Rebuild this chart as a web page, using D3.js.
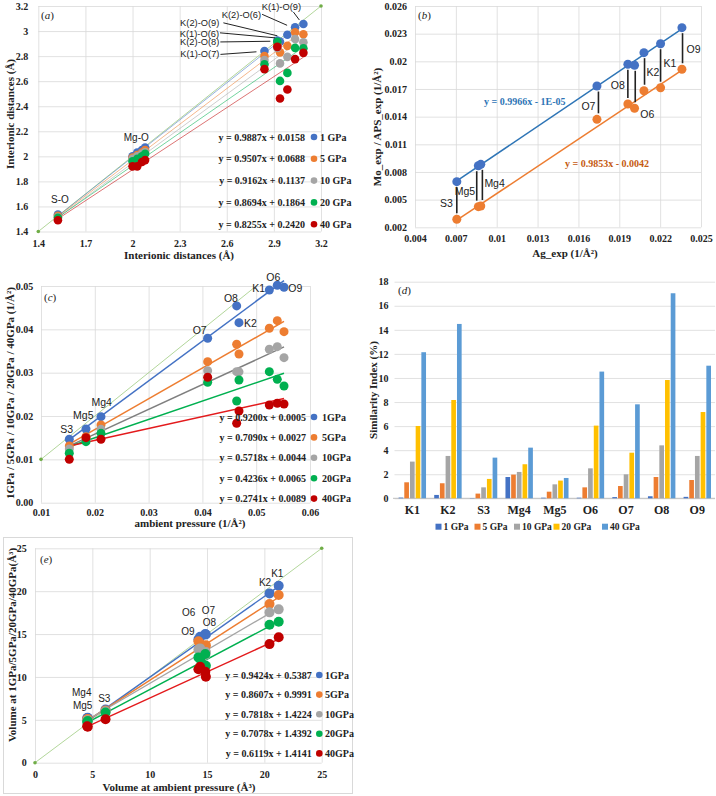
<!DOCTYPE html>
<html><head><meta charset="utf-8">
<script src="https://cdn.jsdelivr.net/npm/d3@7"></script>
<style>body{margin:0;background:#fff} svg{display:block}</style>
</head><body>
<script>
// ---------- shared ----------
const pressureNames = ["1 GPa","5 GPa","10 GPa","20 GPa","40 GPa"];
const pressureShort = ["1GPa","5GPa","10GPa","20GPa","40GPa"];
const seriesColors = ["#4472C4","#ED7D31","#A5A5A5","#00B050","#C00000"];

// ---------- panel (a): interionic distances ----------
const aBonds    = ["S-O","Mg-O","Mg-O","Mg-O","Mg-O","K(1)-O(7)","K(2)-O(8)","K(1)-O(6)","K(2)-O(9)","K(2)-O(6)","K(1)-O(9)"];
const aAmbient  = [1.525, 2.00, 2.03, 2.06, 2.08, 2.84, 2.922, 2.939, 2.986, 3.035, 3.088];
const a1GPa     = [1.535, 2.00, 2.03, 2.05, 2.07, 2.84, 2.925, 2.914, 2.97, 3.03, 3.056];
const a5GPa     = [1.525, 1.99, 2.01, 2.03, 2.05, 2.80, 2.89, 2.83, 2.882, 2.99, 2.974];
const a10GPa    = [1.515, 1.98, 2.00, 2.02, 2.035, 2.768, 2.865, 2.742, 2.794, 2.936, 2.91];
const a20GPa    = [1.51, 1.96, 1.98, 2.00, 2.02, 2.734, 2.914, 2.602, 2.666, 2.866, 2.862];
const a40GPa    = [1.49, 1.92, 1.92, 1.955, 1.97, 2.696, 2.874, 2.462, 2.534, 2.776, 2.826];
const aSlope    = [0.9887, 0.9507, 0.9162, 0.8694, 0.8255];
const aIntercept= [0.0158, 0.0688, 0.1137, 0.1864, 0.2420];
const aXTicks   = [1.4,1.7,2,2.3,2.6,2.9,3.2];
const aYTicks   = [1.4,1.6,1.8,2,2.2,2.4,2.6,2.8,3,3.2];

// ---------- panel (b): Mo / APS vs Ag ----------
const bAtoms = ["S3","Mg5","Mg4","O7","O8","O6","K2","K1","O9"];
const bAg    = [0.00707,0.00865,0.00883,0.01736,0.01963,0.02012,0.02081,0.02203,0.0236];
const bMo    = [0.00695,0.00868,0.00883,0.01732,0.01968,0.01957,0.02094,0.02191,0.02365];
const bAPS   = [0.00287,0.00424,0.00431,0.01371,0.01537,0.01491,0.01681,0.01714,0.01914];
const bSlope = [0.9966, 0.9853];
const bIntercept = [-0.00001, -0.0042];
const bEquations = ["y = 0.9966x - 1E-05","y = 0.9853x - 0.0042"];
const bXTicks = [0.004,0.007,0.010,0.013,0.016,0.019,0.022,0.025];
const bYTicks = [0.002,0.005,0.008,0.011,0.014,0.017,0.020,0.023,0.026];

// ---------- panel (c): pressure vs ambient (1/Å²) ----------
const cAtoms  = ["S3","Mg5","Mg4","O7","O8","K2","K1","O6","O9"];
const cAmbient= [0.01526,0.01836,0.02115,0.04098,0.04637,0.0468,0.05244,0.05392,0.05517];
const c1GPa   = [0.01463,0.0170,0.01985,0.03794,0.0454,0.04154,0.04909,0.05017,0.04971];
const c5GPa   = [0.01308,0.01523,0.01793,0.03254,0.03655,0.03432,0.04025,0.0420,0.03946];
const c10GPa  = [0.0124,0.01447,0.01693,0.03046,0.03023,0.0302,0.0354,0.0360,0.03346];
const c20GPa  = [0.0114,0.01408,0.01601,0.02778,0.02347,0.02832,0.03023,0.02847,0.02693];
const c40GPa  = [0.0100,0.0150,0.01463,0.02894,0.01832,0.02116,0.02255,0.02294,0.02278];
const cSlope  = [0.9200,0.7090,0.5718,0.4236,0.2741];
const cIntercept = [0.0005,0.0027,0.0044,0.0065,0.0089];
const cXTicks = [0.01,0.02,0.03,0.04,0.05,0.06];
const cYTicks = [0,0.01,0.02,0.03,0.04,0.05];

// ---------- panel (d): similarity index ----------
const dAtoms = ["K1","K2","S3","Mg4","Mg5","O6","O7","O8","O9"];
const d1GPa  = [0.06,0.28,0.02,1.77,0.05,0.05,0.10,0.17,0.12];
const d5GPa  = [1.33,1.25,0.39,1.97,0.55,0.91,1.02,1.77,1.52];
const d10GPa = [3.05,3.52,0.91,2.19,1.16,2.49,1.99,4.40,3.52];
const d20GPa = [6.01,8.17,1.61,2.83,1.47,6.04,3.79,9.83,7.17];
const d40GPa = [12.14,14.49,3.38,4.21,1.69,10.53,7.81,17.04,11.02];
const dColors = ["#4472C4","#ED7D31","#A5A5A5","#FFC000","#5B9BD5"];
const dYTicks = [0,2,4,6,8,10,12,14,16,18];

// ---------- panel (e): volumes ----------
const eAtoms  = ["Mg4","Mg5","S3","O9","O6","O8","O7","K2","K1"];
const eAmbient= [4.6,4.55,6.15,14.25,14.4,14.85,14.9,20.45,21.25];
const e1GPa   = [5.25,5.2,6.2,14.38,14.69,15.0,14.95,19.74,20.63];
const e5GPa   = [5.1,5.05,6.1,14.15,13.9,13.52,13.7,18.5,19.55];
const e10GPa  = [4.95,4.9,6.0,13.2,13.33,12.55,12.9,17.53,17.88];
const e20GPa  = [4.85,4.75,5.85,12.28,12.1,12.67,11.3,16.08,16.43];
const e40GPa  = [4.2,4.25,5.06,10.89,11.19,10.6,10.02,13.83,14.62];
const eSlope  = [0.9424,0.8607,0.7818,0.7078,0.6119];
const eIntercept = [0.5387,0.9991,1.4224,1.4392,1.4141];
const eTicks  = [0,5,10,15,20,25];

// =====================================================
const SERIF = '"Liberation Serif","Times New Roman",serif';
const SANS  = '"Liberation Sans",Arial,sans-serif';
const svg = d3.select("body").append("svg").attr("width",716).attr("height",796);

function frame(x, y, xt, yt, xf, yf, padX, padY, vgrid=true) {
  const g = svg.append("g");
  const [ya, yb] = y.range(), [xa, xb] = x.range();
  const style = s => {
    s.select(".domain").remove();
    s.selectAll("line").attr("stroke","#D9D9D9").attr("stroke-width",0.8);
    s.selectAll("text").attr("font-family",SERIF).attr("font-weight","bold").attr("font-size",10).attr("fill","#222");
  };
  if (xt) g.append("g").attr("transform",`translate(0,${ya})`)
    .call(d3.axisBottom(x).tickValues(xt).tickFormat(xf).tickSize(vgrid ? yb-ya : 0).tickPadding(padX)).call(style);
  g.append("g").attr("transform",`translate(${xa},0)`)
    .call(d3.axisLeft(y).tickValues(yt).tickFormat(yf).tickSize(xa-xb).tickPadding(padY)).call(style);
  return g;
}
function txt(x, y, s, o={}) {
  return svg.append("text").attr("x",x).attr("y",y).text(s)
    .attr("font-family",o.family||SERIF).attr("font-size",o.size||10)
    .attr("font-weight",o.weight||"normal").attr("fill",o.fill||"#222")
    .attr("text-anchor",o.anchor||"start");
}
function vtitle(cx, cy, s, size=11) {
  svg.append("text").attr("transform",`translate(${cx},${cy}) rotate(-90)`)
    .attr("text-anchor","middle").attr("dy","0.35em").text(s)
    .attr("font-family",SERIF).attr("font-weight","bold").attr("font-size",size).attr("fill","#222");
}
function panelLabel(x, y, letter) {
  const t = svg.append("text").attr("x",x).attr("y",y).attr("font-family",SERIF).attr("font-size",11).attr("fill","#222");
  t.append("tspan").text("(");
  t.append("tspan").attr("font-style","italic").text(letter);
  t.append("tspan").text(")");
}
function diag(x, y, lo, hi, dots) {
  svg.append("line").attr("x1",x(lo)).attr("y1",y(lo)).attr("x2",x(hi)).attr("y2",y(hi))
    .attr("stroke","#A9D18E").attr("stroke-width",0.9);
  dots.forEach(v => svg.append("circle").attr("cx",x(v)).attr("cy",y(v)).attr("r",1.8).attr("fill","#70AD47"));
}
function regLines(x, y, xs, slopes, ints, cols, w, op) {
  const lo = d3.min(xs), hi = d3.max(xs);
  slopes.forEach((m,i) => {
    svg.append("line").attr("x1",x(lo)).attr("y1",y(m*lo+ints[i]))
      .attr("x2",x(hi)).attr("y2",y(m*hi+ints[i]))
      .attr("stroke",cols[i]).attr("stroke-width",w).attr("stroke-opacity",op);
  });
}
function points(x, y, xs, seriesList, cols, r) {
  seriesList.forEach((vals,i) => {
    svg.append("g").selectAll("circle").data(vals).join("circle")
      .attr("cx",(d,j)=>x(xs[j])).attr("cy",d=>y(d)).attr("r",r).attr("fill",cols[i]);
  });
}
function legend(eqs, labels, cols, xEnd, y0, dy, xDot, xLab) {
  eqs.forEach((e,i) => {
    const yy = y0 + i*dy;
    txt(xEnd, yy+3.5, e, {weight:"bold", anchor:"end"});
    svg.append("circle").attr("cx",xDot).attr("cy",yy).attr("r",3.3).attr("fill",cols[i]);
    txt(xLab, yy+3.5, labels[i], {weight:"bold"});
  });
}
const fmtEq = (m,b) => `y = ${m.toFixed(4)}x + ${b.toFixed(4)}`;
const trimFmt = d => String(+d.toFixed(3));

// =============== (a) ===============
{
  const x = d3.scaleLinear().domain([1.4,3.2]).range([38.3,321]);
  const y = d3.scaleLinear().domain([1.4,3.2]).range([231.5,6]);
  frame(x,y,aXTicks,aYTicks,trimFmt,trimFmt,8.5,10);
  diag(x,y,1.4,3.2,[1.4,3.2]);
  regLines(x,y,aAmbient,aSlope,aIntercept,seriesColors,1,0.55);
  points(x,y,aAmbient,[a1GPa,a5GPa,a10GPa,a20GPa,a40GPa],seriesColors,4.3);
  legend(aSlope.map((m,i)=>fmtEq(m,aIntercept[i])), pressureNames, seriesColors, 305, 137, 21.8, 314, 320);
  const L = {family:SANS, size:10};
  txt(x(aAmbient[0])+2, y(a1GPa[0])-12, "S-O", {...L, anchor:"middle"});
  txt(x(aAmbient[2])-1, y(a1GPa[4])-7, "Mg-O", {...L, anchor:"middle"});
  // K labels: [index, text dx, text dy, anchor, line x1,y1,x2,y2 offsets]
  const kAnn = [
    [10,-22,-14,"middle",-10,-12,-4,-4],
    [9,-34,-9,"end",-33,-13,-8,-2],
    [8,-68,-8.5,"end",-64,-12,-10,1],
    [7,-61,-5,"end",-60,-9,-5,-4],
    [6,-58,5,"end",-57,1.5,-7,0.8],
    [5,-45,6,"end",-44,3.3,-8,0.7]
  ];
  kAnn.forEach(([i,tdx,tdy,anc,l1x,l1y,l2x,l2y]) => {
    const px = x(aAmbient[i]), py = y(a1GPa[i]);
    txt(px+tdx, py+tdy, aBonds[i], {family:SANS, size:9.3, anchor:anc});
    svg.append("line").attr("x1",px+l1x).attr("y1",py+l1y).attr("x2",px+l2x).attr("y2",py+l2y)
      .attr("stroke","#222").attr("stroke-width",1);
  });
  panelLabel(41,19,"a");
  txt(179,259,"Interionic distances (Å)",{weight:"bold",size:11,anchor:"middle"});
  vtitle(10,114,"Interionic distances (Å)");
}

// =============== (b) ===============
{
  const x = d3.scaleLinear().domain([0.004,0.025]).range([415,701]);
  const y = d3.scaleLinear().domain([0.002,0.026]).range([227.3,6]);
  frame(x,y,bXTicks,bYTicks,trimFmt,trimFmt,7.2,8);
  const bCols = ["#2E75B6","#ED7D31"];
  regLines(x,y,bAg,bSlope,bIntercept,bCols,1.5,1);
  points(x,y,bAg,[bMo,bAPS],["#4472C4","#ED7D31"],4.5);
  const L = {family:SANS, size:10.5};
  const ann = { // line x offset, anchor, label dx, label dy (relative to line mid)
    S3:[0,"end",-4,6.5], Mg5:[-1.6,"end",-1.5,9], Mg4:[1.6,"start",2,2.5],
    O7:[1.5,"end",-3,8], O8:[0,"end",-3,5.5], O6:[0.7,"start",5,31],
    K2:[0.6,"start",2,4.5], K1:[0,"start",3,2], O9:[0.6,"start",4,4.8]
  };
  bAtoms.forEach((a,i) => {
    const [ox,anc,ldx,ldy] = ann[a];
    const lx = x(bAg[i])+ox, y1 = y(bMo[i])+5.5, y2 = y(bAPS[i])-6;
    svg.append("line").attr("x1",lx).attr("x2",lx).attr("y1",y1).attr("y2",y2).attr("stroke","#222").attr("stroke-width",1.6);
    txt(lx+ldx, (y1+y2)/2+ldy, a, {...L, anchor:anc});
  });
  txt(484,105,bEquations[0],{weight:"bold",fill:"#2E75B6"});
  txt(565,167,bEquations[1],{weight:"bold",fill:"#C55A11"});
  panelLabel(418,19,"b");
  txt(565,257,"Ag_exp (1/Å²)",{weight:"bold",size:11,anchor:"middle"});
  vtitle(377,127,"Mo_exp / APS_exp (1/Å²)");
}

// =============== (c) ===============
{
  const x = d3.scaleLinear().domain([0.01,0.06]).range([41,310]);
  const y = d3.scaleLinear().domain([0,0.05]).range([502.7,286]);
  frame(x,y,cXTicks,cYTicks,d=>d.toFixed(2),d=>d.toFixed(2),6.5,7.7);
  diag(x,y,0.01,0.05,[0.01]);
  const lineCols = ["#4472C4","#ED7D31","#7F7F7F","#00B050","#E31A1C"];
  regLines(x,y,cAmbient,cSlope,cIntercept,lineCols,1.5,1);
  points(x,y,cAmbient,[c1GPa,c5GPa,c10GPa,c20GPa,c40GPa],seriesColors,4.5);
  legend(cSlope.map((m,i)=>fmtEq(m,cIntercept[i])), pressureShort, seriesColors, 306, 417, 20.4, 314, 322);
  const L = {family:SANS, size:10.5};
  const off = {S3:[-2.6,-6.5,"middle"],Mg5:[-2.7,-10.5,"middle"],Mg4:[0.7,-10.5,"middle"],
    O7:[-1,-3.8,"end"],O8:[-5.7,-4.2,"middle"],K2:[5,4.1,"start"],K1:[-4.3,2.5,"end"],
    O6:[-4,-4.5,"middle"],O9:[4.3,4.5,"start"]};
  cAtoms.forEach((a,i) => {
    const [dx,dy,anc] = off[a];
    txt(x(cAmbient[i])+dx, y(c1GPa[i])+dy, a, {...L, anchor:anc});
  });
  panelLabel(44,301,"c");
  txt(190,527,"ambient pressure (1/Å²)",{weight:"bold",size:11,anchor:"middle"});
  vtitle(10.5,393,"1GPa / 5GPa / 10GPa / 20GPa / 40GPa (1/Å²)");
}

// =============== (d) ===============
{
  const x = d3.scaleBand().domain(dAtoms).range([394.5,715.1]).paddingInner(0.23).paddingOuter(0.115);
  const y = d3.scaleLinear().domain([0,18]).range([498.3,281.7]);
  frame(x,y,null,dYTicks,null,d=>d,0,6);
  svg.append("line").attr("x1",393).attr("x2",715).attr("y1",y(0)).attr("y2",y(0)).attr("stroke","#BFBFBF");
  const sub = d3.scaleBand().domain(pressureNames).range([0,x.bandwidth()]).paddingInner(0.18);
  const dSeries = [d1GPa,d5GPa,d10GPa,d20GPa,d40GPa];
  dSeries.forEach((vals,i) => {
    svg.append("g").selectAll("rect").data(vals).join("rect")
      .attr("x",(d,j)=>x(dAtoms[j])+sub(pressureNames[i])).attr("width",sub.bandwidth())
      .attr("y",d=>y(d)).attr("height",d=>y(0)-y(d)).attr("fill",dColors[i]);
  });
  svg.append("g").attr("transform",`translate(0,${y(0)})`)
    .call(d3.axisBottom(x).tickSize(0).tickPadding(7))
    .call(s=>{s.select(".domain").remove(); s.selectAll("text").attr("font-family",SERIF).attr("font-weight","bold").attr("font-size",12).attr("fill","#222");});
  const legX = [435.5,474.5,514,553.5,602];
  pressureNames.forEach((p,i) => {
    svg.append("rect").attr("x",legX[i]).attr("y",523.7).attr("width",6).attr("height",6).attr("fill",dColors[i]);
    txt(legX[i]+8, 530, p, {weight:"bold", size:9.5});
  });
  panelLabel(398,294,"d");
  vtitle(373,390,"Similarity Index (%)");
}

// =============== (e) ===============
{
  svg.append("rect").attr("x",3.5).attr("y",537.5).attr("width",349).attr("height",256).attr("fill","none").attr("stroke","#D9D9D9");
  const x = d3.scaleLinear().domain([0,25]).range([35,321.7]);
  const y = d3.scaleLinear().domain([0,25]).range([762.7,548.3]);
  frame(x,y,eTicks,eTicks,d=>d,d=>d,8.5,8.3);
  diag(x,y,0,25,[0,25]);
  const lineCols = ["#4472C4","#ED7D31","#A5A5A5","#00B050","#E31A1C"];
  regLines(x,y,eAmbient,eSlope,eIntercept,lineCols,1.4,1);
  points(x,y,eAmbient,[e1GPa,e5GPa,e10GPa,e20GPa,e40GPa],seriesColors,5);
  legend(eSlope.map((m,i)=>fmtEq(m,eIntercept[i])), pressureShort, seriesColors, 311.7, 675, 19.6, 319.3, 325);
  const L = {family:SANS, size:10};
  const off = {Mg4:[-6,-22],Mg5:[-4.5,-9.4],S3:[-1.2,-8],O9:[-10.5,-4.6],O6:[-11.5,-20.4],
    O8:[4,-8.4],O7:[2.5,-20.4],K2:[-4.5,-7.3],K1:[-1.4,-8.7]};
  eAtoms.forEach((a,i) => {
    const [dx,dy] = off[a];
    txt(x(eAmbient[i])+dx, y(e1GPa[i])+dy, a, {...L, anchor:"middle"});
  });
  panelLabel(40,563,"e");
  txt(179,791,"Volume at ambient pressure (Å³)",{weight:"bold",size:11,anchor:"middle"});
  vtitle(12.5,645,"Volume at 1GPa/5GPa/20GPa/40GPa(Å³)");
}
</script>
</body></html>
